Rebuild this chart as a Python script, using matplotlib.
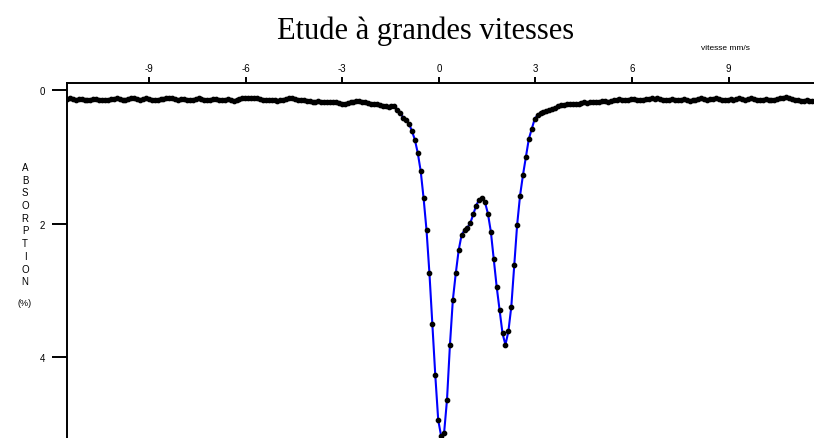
import numpy as np
import matplotlib
matplotlib.use("Agg")
import matplotlib.pyplot as plt

# ---- data ----
V_MIN = -11.55          # velocity of channel 0 (mm/s)
V_STEP = 0.09078        # mm/s per channel

absorption_left = [
    0.13, 0.12, 0.13, 0.14, 0.13, 0.13, 0.14, 0.15, 0.14, 0.13,
    0.13, 0.14, 0.15, 0.15, 0.14, 0.13, 0.13, 0.12, 0.13, 0.14,
    0.14, 0.13, 0.12, 0.12, 0.13, 0.14, 0.13, 0.12, 0.13, 0.14,
    0.15, 0.14, 0.13, 0.13, 0.12, 0.11, 0.12, 0.13, 0.14, 0.13,
    0.13, 0.14, 0.15, 0.14, 0.13, 0.12, 0.13, 0.14, 0.15, 0.14,
    0.13, 0.13, 0.14, 0.15, 0.14, 0.13, 0.15, 0.16, 0.14, 0.13,
    0.12, 0.12, 0.11, 0.12, 0.11, 0.12, 0.13, 0.14, 0.15, 0.15,
    0.14, 0.15, 0.16, 0.15, 0.14, 0.13, 0.12, 0.12, 0.13, 0.14,
    0.15, 0.15, 0.16, 0.16, 0.17, 0.17, 0.16, 0.17, 0.17, 0.18,
    0.17, 0.18, 0.18, 0.19, 0.20, 0.20, 0.19, 0.18, 0.17, 0.16,
    0.16, 0.17, 0.18, 0.19, 0.20, 0.21, 0.21, 0.22, 0.23, 0.24,
    0.25, 0.24, 0.24, 0.29, 0.34,
]
absorption_dips = [
    0.41, 0.45, 0.50, 0.61, 0.74, 0.94, 1.21, 1.62, 2.10, 2.75,
    3.51, 4.28, 4.95, 5.19, 5.15, 4.65, 3.83, 3.15, 2.75, 2.40,
    2.17, 2.10, 2.06, 1.99, 1.86, 1.73, 1.64, 1.62, 1.68, 1.85,
    2.12, 2.53, 2.95, 3.30, 3.65, 3.82, 3.62, 3.25, 2.63, 2.02,
    1.58, 1.27, 1.00, 0.73, 0.58, 0.43, 0.37, 0.34, 0.33, 0.31,
    0.29,
]
absorption_right = [
    0.28, 0.26, 0.24, 0.22, 0.22, 0.21, 0.21, 0.20, 0.21, 0.20,
    0.19, 0.18, 0.19, 0.18, 0.17, 0.17, 0.18, 0.16, 0.16, 0.17,
    0.16, 0.15, 0.14, 0.13, 0.14, 0.15, 0.14, 0.13, 0.13, 0.14,
    0.15, 0.14, 0.13, 0.13, 0.12, 0.13, 0.12, 0.13, 0.14, 0.15,
    0.14, 0.13, 0.14, 0.15, 0.14, 0.13, 0.14, 0.16, 0.15, 0.14,
    0.13, 0.12, 0.13, 0.14, 0.13, 0.13, 0.12, 0.13, 0.14, 0.15,
    0.14, 0.13, 0.14, 0.13, 0.12, 0.13, 0.14, 0.13, 0.12, 0.13,
    0.14, 0.15, 0.14, 0.13, 0.14, 0.15, 0.14, 0.13, 0.12, 0.11,
    0.10, 0.11, 0.13, 0.14, 0.15, 0.16, 0.16, 0.15, 0.16, 0.16,
]

x_ticks = [-9, -6, -3, 0, 3, 6, 9]
y_ticks = [0, 2, 4]
title = "Etude à grandes vitesses"
x_label = "vitesse mm/s"
y_label_letters = list("ABSORPTION")
y_unit = "(%)"

absorption = np.array(absorption_left + absorption_dips + absorption_right)
velocity = V_MIN + V_STEP * np.arange(len(absorption))

# ---- figure ----
W, H = 814, 439
fig = plt.figure(figsize=(W / 100, H / 100), dpi=100)
ax_left = 67 / W
ax_top = 84
ax = fig.add_axes([ax_left, 0, 1 - ax_left, (H - ax_top) / H])

ax.plot(velocity, absorption, color="#0000ff", lw=1.5, zorder=2)
ax.plot(velocity, absorption, ls="none", marker="o", ms=3.1,
        color="black", mec="black", zorder=3)

ax.set_xlim(-11.55, 11.65)
ax.set_ylim(5.22, -0.11)

for s in ["right", "bottom"]:
    ax.spines[s].set_visible(False)
for s in ["top", "left"]:
    ax.spines[s].set_linewidth(1.4)

ax.xaxis.tick_top()
ax.set_xticks(x_ticks)
ax.set_xticklabels([str(t) for t in x_ticks])
ax.set_yticks(y_ticks)
ax.set_yticklabels([str(t) for t in y_ticks])
ax.tick_params(axis="x", direction="out", length=4.5, width=1.4, pad=2.5,
               labelsize=7)
ax.tick_params(axis="y", direction="out", length=11, width=1.4, pad=5,
               labelsize=7)
for lab in ax.get_xticklabels() + ax.get_yticklabels():
    lab.set_fontfamily("Liberation Sans")

fig.text(426 / W, 1 - 39 / H, title, ha="center", va="baseline",
         fontsize=22, family="Liberation Serif")
fig.text(725 / W, 1 - 48 / H, x_label, ha="center", va="center",
         fontsize=6, family="Liberation Sans")

y0, pitch = 168, 12.7
for k, ch in enumerate(y_label_letters):
    fig.text(25 / W, 1 - (y0 + k * pitch) / H, ch, ha="center",
             va="center", fontsize=7, family="Liberation Sans")
fig.text(25 / W, 1 - 304 / H, y_unit, ha="center", va="center",
         fontsize=6.5, family="Liberation Sans")

fig.savefig("out.png", dpi=100)
